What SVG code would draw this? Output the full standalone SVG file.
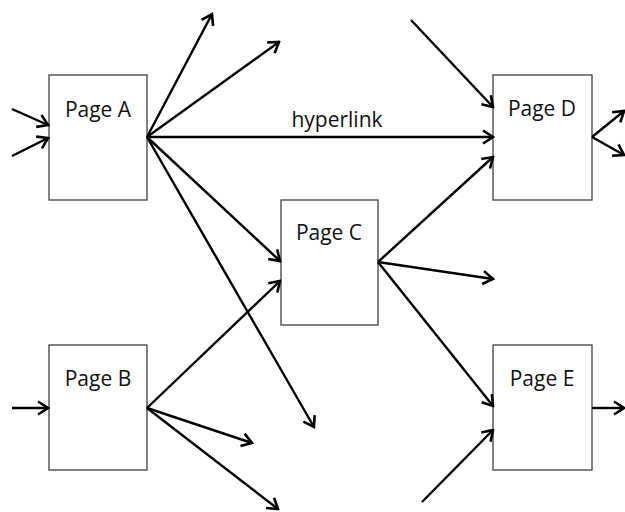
<svg xmlns="http://www.w3.org/2000/svg" width="625" height="512" viewBox="0 0 625 512">
  <style>
    .page { fill: #ffffff; stroke: #404040; stroke-width: 1.3; }
    .label { font-family: "Open Sans", "Liberation Sans", sans-serif; font-size: 21px; fill: #111111; text-anchor: middle; }
    .link { stroke: #000000; stroke-width: 2.4; fill: none; marker-end: url(#head); }
  </style>
  <defs>
    <marker id="head" markerUnits="userSpaceOnUse" markerWidth="16" markerHeight="16" viewBox="0 0 16 16" refX="14" refY="8" orient="auto">
      <path d="M4,1.5 L14,8 L4,14.5" fill="none" stroke="#000000" stroke-width="2.6" stroke-linejoin="miter"/>
    </marker>
  </defs>

  <g id="page-a">
    <rect class="page" x="49" y="75" width="98" height="125"/>
    <text class="label" x="98" y="117">Page A</text>
  </g>
  <g id="page-b">
    <rect class="page" x="49" y="345" width="98" height="125"/>
    <text class="label" x="98" y="386">Page B</text>
  </g>
  <g id="page-c">
    <rect class="page" x="281" y="200" width="97" height="125"/>
    <text class="label" x="329" y="240">Page C</text>
  </g>
  <g id="page-d">
    <rect class="page" x="493" y="75" width="99" height="125"/>
    <text class="label" x="542" y="116">Page D</text>
  </g>
  <g id="page-e">
    <rect class="page" x="493" y="345" width="99" height="125"/>
    <text class="label" x="542" y="386">Page E</text>
  </g>

  <g id="connectors">
    <!-- incoming to A -->
    <line class="link" x1="12" y1="109" x2="48" y2="125"/>
    <line class="link" x1="12" y1="156" x2="48" y2="138"/>
    <!-- out of A -->
    <line class="link" x1="147" y1="137" x2="212" y2="14"/>
    <line class="link" x1="147" y1="137" x2="279" y2="42"/>
    <line class="link" x1="147" y1="137" x2="493" y2="137"/>
    <line class="link" x1="147" y1="137" x2="280" y2="261"/>
    <line class="link" x1="147" y1="137" x2="314" y2="427"/>
    <!-- incoming to B -->
    <line class="link" x1="12" y1="408" x2="48" y2="408"/>
    <!-- out of B -->
    <line class="link" x1="147" y1="408" x2="280" y2="281"/>
    <line class="link" x1="147" y1="408" x2="252" y2="443"/>
    <line class="link" x1="147" y1="408" x2="278" y2="509"/>
    <!-- out of C -->
    <line class="link" x1="378" y1="262" x2="493" y2="157"/>
    <line class="link" x1="378" y1="262" x2="493" y2="279"/>
    <line class="link" x1="378" y1="262" x2="493" y2="406"/>
    <!-- incoming to D -->
    <line class="link" x1="411" y1="20" x2="493" y2="107"/>
    <!-- out of D -->
    <line class="link" x1="592" y1="137" x2="624" y2="111"/>
    <line class="link" x1="592" y1="137" x2="624" y2="155"/>
    <!-- incoming to E -->
    <line class="link" x1="422" y1="502" x2="493" y2="430"/>
    <!-- out of E -->
    <line class="link" x1="592" y1="408" x2="624" y2="408"/>
    <text class="label" x="337" y="127">hyperlink</text>
  </g>
</svg>
